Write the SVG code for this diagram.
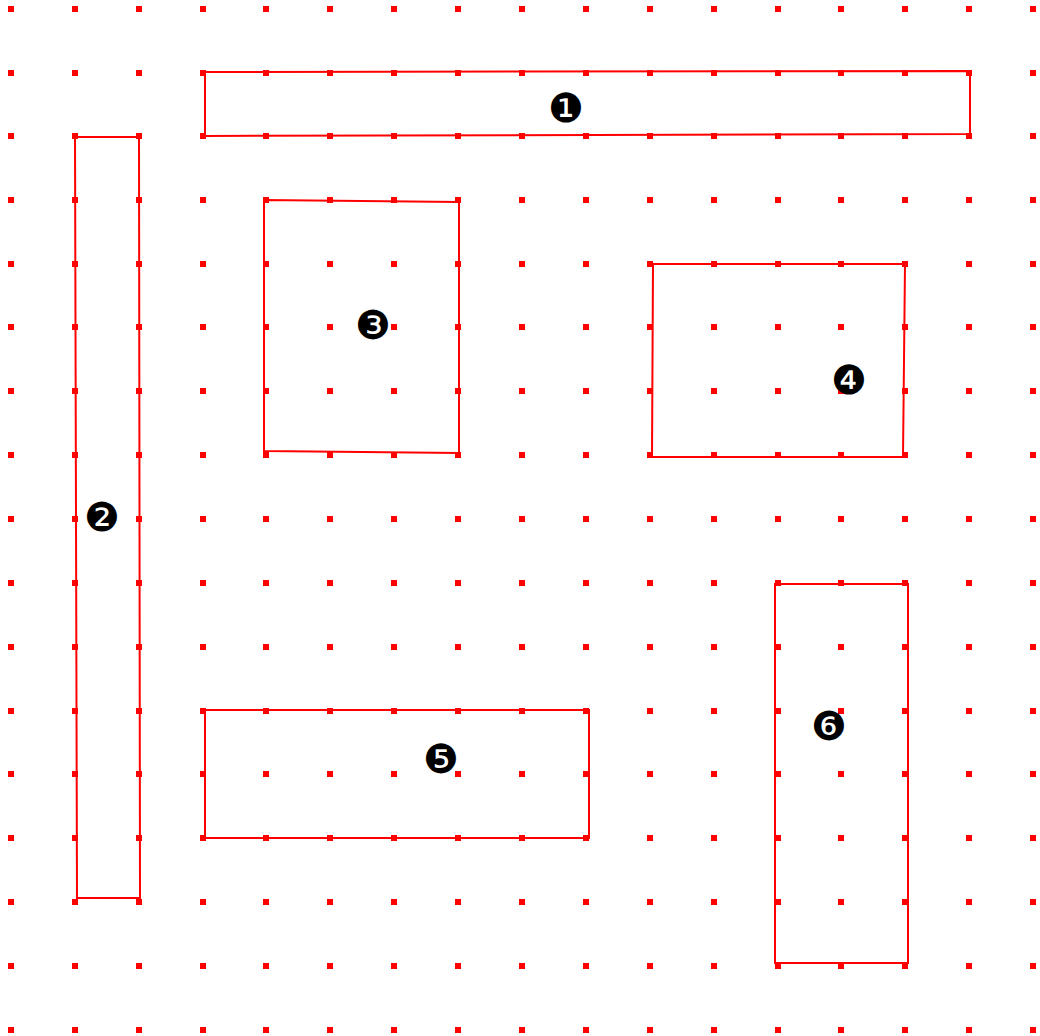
<svg xmlns="http://www.w3.org/2000/svg" xmlns:xlink="http://www.w3.org/1999/xlink" width="1040" height="1036" viewBox="0 0 1040 1036">
<style>
.box{fill:none;stroke:#ff0000;stroke-width:2}
.dot{fill:#ff0000}
.lbl{font-family:"DejaVu Serif","DejaVu Sans",serif;font-size:40px;fill:#000;text-anchor:middle;dominant-baseline:central}
</style>
<defs>
<path id="row" class="dot" d="M8 0h6v6h-6z M72 0h6v6h-6z M136 0h6v6h-6z M200 0h6v6h-6z M263 0h6v6h-6z M327 0h6v6h-6z M391 0h6v6h-6z M455 0h6v6h-6z M519 0h6v6h-6z M583 0h6v6h-6z M647 0h6v6h-6z M711 0h6v6h-6z M775 0h6v6h-6z M838 0h6v6h-6z M902 0h6v6h-6z M966 0h6v6h-6z M1030 0h6v6h-6z"/>
</defs>
<rect width="1040" height="1036" fill="#fff"/>
<g id="connectors"></g>
<g id="boxes">
<g id="n1"><polygon class="box" points="205,72 970,71 970,134 205,136"/></g>
<g id="n2"><polygon class="box" points="75,137 139,137 140,898 77,898"/></g>
<g id="n3"><polygon class="box" points="264,200 459,202 459,453 264,451"/></g>
<g id="n4"><polygon class="box" points="653,264 905,264 903,457 652,457"/></g>
<g id="n5"><polygon class="box" points="205,710 589,710 589,838 205,838"/></g>
<g id="n6"><polygon class="box" points="775,584 908,584 908,963 775,963"/></g>
</g>
<g id="grid">
<use xlink:href="#row" y="6"/>
<use xlink:href="#row" y="70"/>
<use xlink:href="#row" y="133"/>
<use xlink:href="#row" y="197"/>
<use xlink:href="#row" y="261"/>
<use xlink:href="#row" y="324"/>
<use xlink:href="#row" y="388"/>
<use xlink:href="#row" y="452"/>
<use xlink:href="#row" y="516"/>
<use xlink:href="#row" y="580"/>
<use xlink:href="#row" y="644"/>
<use xlink:href="#row" y="708"/>
<use xlink:href="#row" y="771"/>
<use xlink:href="#row" y="835"/>
<use xlink:href="#row" y="899"/>
<use xlink:href="#row" y="963"/>
<use xlink:href="#row" y="1027"/>
</g>
<g id="labels">
<text class="lbl" x="566" y="108">❶</text>
<text class="lbl" x="102" y="517">❷</text>
<text class="lbl" x="373" y="325">❸</text>
<text class="lbl" x="849" y="380">❹</text>
<text class="lbl" x="441" y="759">❺</text>
<text class="lbl" x="829" y="726">❻</text>
</g>
</svg>
